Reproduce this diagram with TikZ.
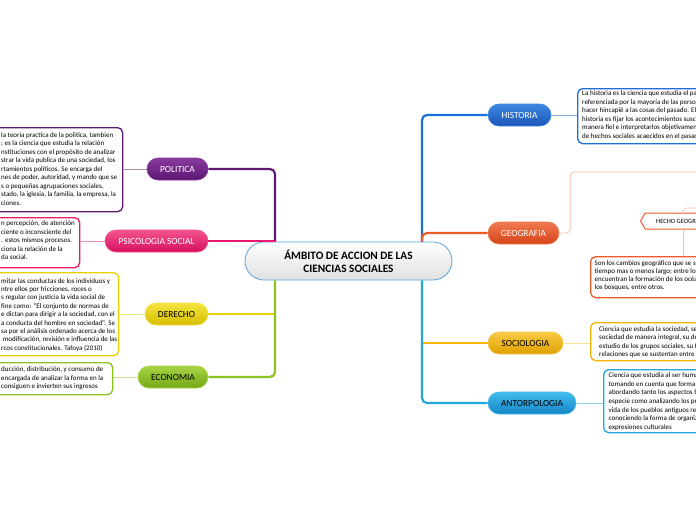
\documentclass[tikz,border=0pt]{standalone}
\usepackage{fontspec}
\setmainfont{Carlito}
\usetikzlibrary{shapes.symbols}
\definecolor{polC}{HTML}{5E1A72}\definecolor{polT}{HTML}{8A3A9E}\definecolor{polB}{HTML}{5A1670}
\definecolor{psiC}{HTML}{E8186E}\definecolor{psiT}{HTML}{F2548F}\definecolor{psiB}{HTML}{D80F60}
\definecolor{derC}{HTML}{E6D200}\definecolor{derT}{HTML}{F4E440}\definecolor{derB}{HTML}{D6BE00}
\definecolor{ecoC}{HTML}{8CC21E}\definecolor{ecoT}{HTML}{A8D444}\definecolor{ecoB}{HTML}{74A816}
\definecolor{hisC}{HTML}{1E6FD8}\definecolor{hisT}{HTML}{3E88E2}\definecolor{hisB}{HTML}{1A55B6}
\definecolor{geoC}{HTML}{F05A28}\definecolor{geoT}{HTML}{F07A50}\definecolor{geoB}{HTML}{D6441A}
\definecolor{socC}{HTML}{F8B400}\definecolor{socT}{HTML}{F8CA44}\definecolor{socB}{HTML}{E0A000}
\definecolor{antC}{HTML}{20A8E0}\definecolor{antT}{HTML}{44BCEE}\definecolor{antB}{HTML}{1486C6}
\definecolor{cBorder}{HTML}{5AA6DC}
\begin{document}
\begin{tikzpicture}[x=1pt,y=-1pt,
  cat/.style n args={3}{rounded corners=11pt, minimum height=22pt, inner sep=0pt,
    top color=#1, bottom color=#2, draw=#1, line width=0.6pt, text=#3,
    font=\fontsize{9.4}{10}\selectfont},
  descbox/.style={draw=#1, line width=1.3pt, rounded corners=5pt, fill=white, inner sep=0pt, anchor=north west},
  desc/.style={font=\fontsize{7}{8.5}\selectfont, align=left, inner sep=0pt, anchor=north west},
  branch/.style={line width=2.2pt, rounded corners=5pt},
  sub/.style={line width=0.8pt}]
\useasboundingbox (0,0) rectangle (696,520);
\fill[white] (0,0) rectangle (696,520);
\clip (0,0) rectangle (696,520);
\coordinate (lt) at (275,261);
\coordinate (rt) at (422,261);
\coordinate (gtop) at (705,172);
\coordinate (hx) at (683,0);
\coordinate (htop) at (705,208);

% central
\node[draw=cBorder, line width=0.8pt, rounded corners=19pt, top color=white, bottom color=black!12,
  minimum width=207pt, minimum height=38pt, inner sep=0pt, align=center,
  font=\bfseries\fontsize{11.3}{13.4}\selectfont] (c) at (348.5,261) {ÁMBITO DE ACCION DE LAS\\CIENCIAS SOCIALES};

% category nodes
\node[cat={polT}{polB}{white}, minimum width=61pt] (pol) at (177.5,169) {POLITICA};
\node[cat={psiT}{psiB}{white}, minimum width=103pt] (psi) at (156.5,241) {PSICOLOGIA SOCIAL};
\node[cat={derT}{derB}{black}, minimum width=63pt] (der) at (176.5,314) {DERECHO};
\node[cat={ecoT}{ecoB}{black}, minimum width=70pt] (eco) at (173,377) {ECONOMIA};
\node[cat={hisT}{hisB}{white}, minimum width=63pt] (his) at (519.5,115) {HISTORIA};
\node[cat={geoT}{geoB}{white}, minimum width=71pt] (geo) at (523.5,233) {GEOGRAFIA};
\node[cat={socT}{socB}{black}, minimum width=75pt] (soc) at (525.5,343) {SOCIOLOGIA};
\node[cat={antT}{antB}{black}, minimum width=88pt] (ant) at (532,403) {ANTORPOLOGIA};

% branches
\draw[branch, derC] (der.east) -- (der.east -| lt);
\draw[branch, polC] (pol.east) -- (pol.east -| lt) -- (c.north -| lt);
\draw[branch, psiC] (psi.east) -- (psi.east -| lt);
\draw[branch, ecoC] (c.south -| lt) -- (eco.east -| lt) -- (eco.east);
\draw[branch, socC] (soc.west) -- (soc.west -| rt);
\draw[branch, hisC] (c.north -| rt) -- (his.west -| rt) -- (his.west);
\draw[branch, geoC] (c.north -| rt) -- (geo.west -| rt) -- (geo.west);
\draw[branch, antC] (c.south -| rt) -- (ant.west -| rt) -- (ant.west);

% description boxes
\node[descbox=polC, minimum width=132pt, minimum height=84pt] (polbox) at (-10,127) {};
\node[descbox=psiC, minimum width=89pt, minimum height=50pt] (psibox) at (-10,217) {};
\node[descbox=derC, minimum width=128pt, minimum height=83pt] (derbox) at (-10,272) {};
\node[descbox=ecoC, minimum width=122pt, minimum height=32pt] (ecobox) at (-10,362) {};
\node[descbox=hisC, minimum width=140pt, minimum height=55pt] (hisbox) at (577,88) {};
\node[descbox=geoC, minimum width=130pt, minimum height=41pt] (geobox) at (590,256) {};
\node[descbox=socC, minimum width=130pt, minimum height=38pt] (socbox) at (590,322) {};
\node[descbox=antC, minimum width=120pt, minimum height=63pt] (antbox) at (603,369) {};

% sub connectors
\draw[sub, polC!50!white] (pol.west) -- (pol.west -| polbox.east);
\draw[sub, psiC!50!white] (psi.west) -- (psi.west -| psibox.east);
\draw[sub, derC!50!white] (der.west) -- (der.west -| derbox.east);
\draw[sub, ecoC!50!white] (eco.west) -- (eco.west -| ecobox.east);
\draw[sub, hisC!55!white] (his.east) -- (his.east -| hisbox.west);
\draw[sub, socC!40!white] (soc.east) -- (soc.east -| socbox.west);
\draw[sub, antC!50!white] (ant.east) -- (ant.east -| antbox.west);
\draw[sub, geoC!40!white, rounded corners=4pt] (geo.east) -- ++(11,0) |- (gtop);

% hecho geografico
\node[signal, signal to=west, signal pointer angle=120, draw=geoC, line width=1pt, fill=white,
  minimum height=16pt, minimum width=70pt, inner xsep=4pt, inner ysep=0pt, anchor=west, text=black,
  font=\fontsize{6.5}{7}\selectfont] (hecho) at (640,221) {HECHO GEOGRÁ};
\draw[sub, geoC!40!white] (hecho.south -| hx) -- (geobox.north -| hx);
\draw[sub, geoC!40!white, rounded corners=4pt] (hecho.north -| hx) |- (htop);

% texts
\node[desc] (poltxt) at (1,132.1) {la teoría practica de la politica, tambien\\
; es la ciencia que estudia la relación\\
nstituciones con el propósito de analizar\\
strar la vida publica de una sociedad, los\\
rtamientos políticos. Se encarga del\\
nes de poder, autoridad, y mando que se\\
s o pequeñas agrupaciones sociales,\\
stado, la iglesia, la familia, la empresa, la\\
ciones.};
\node[desc] (psitxt) at (1,220.7) {n percepción, de atención\\
ciente o inconsciente del\\
. estos mismos procesos.\\
ciona la relación de la\\
da social.};
\node[desc, font=\fontsize{7}{8.4}\selectfont] (dertxt) at (1,278.1) {mitar las conductas de los individuos y\\
ntre ellos por fricciones, roces o\\
s regular con justicia la vida social de\\
fine como: “El conjunto de normas de\\
e dictan para dirigir a la sociedad, con el\\
a conducta del hombre en sociedad”. Se\\
sa por el análisis ordenado acerca de los\\
\ modificación, revisión e influencia de las\\
rcos constitucionales. Tafoya (2010)};
\node[desc, font=\fontsize{7}{8.7}\selectfont] (ecotxt) at (1,366.4) {ducción, distribución, y consumo de\\
encargada de analizar la forma en la\\
consiguen e invierten sus ingresos};
\node[desc] (histxt) at (582,90.7) {La historia es la ciencia que estudia el pa\\
referenciada por la mayoría de las perso\\
hacer hincapié a las cosas del pasado. El\\
historia es fijar los acontecimientos susci\\
manera fiel e interpretarlos objetivament\\
de hechos sociales acaecidos en el pasad};
\node[desc, font=\fontsize{7}{7.9}\selectfont] (geotxt) at (594.5,260.4) {Son los cambios geográfico que se s\\
tiempo mas o menos largo; entre los\\
encuentran la formación de los océa\\
los bosques, entre otros.};
\node[desc, font=\fontsize{7}{8.3}\selectfont] (soctxt) at (599,326.4) {Ciencia que estudia la sociedad, se d\\
sociedad de manera integral, su ded\\
estudio de los grupos sociales, su fo\\
relaciones que se sustentan entre su};
\node[desc, font=\fontsize{7}{8.7}\selectfont] (anttxt) at (608.5,372.4) {Ciencia que estudia al ser huma\\
tomando en cuenta que forma p\\
abordando tanto los aspectos b\\
especie como analizando los pr\\
vida de los pueblos antiguos res\\
conociendo la forma de organiz\\
expresiones culturales};
\end{tikzpicture}
\end{document}
